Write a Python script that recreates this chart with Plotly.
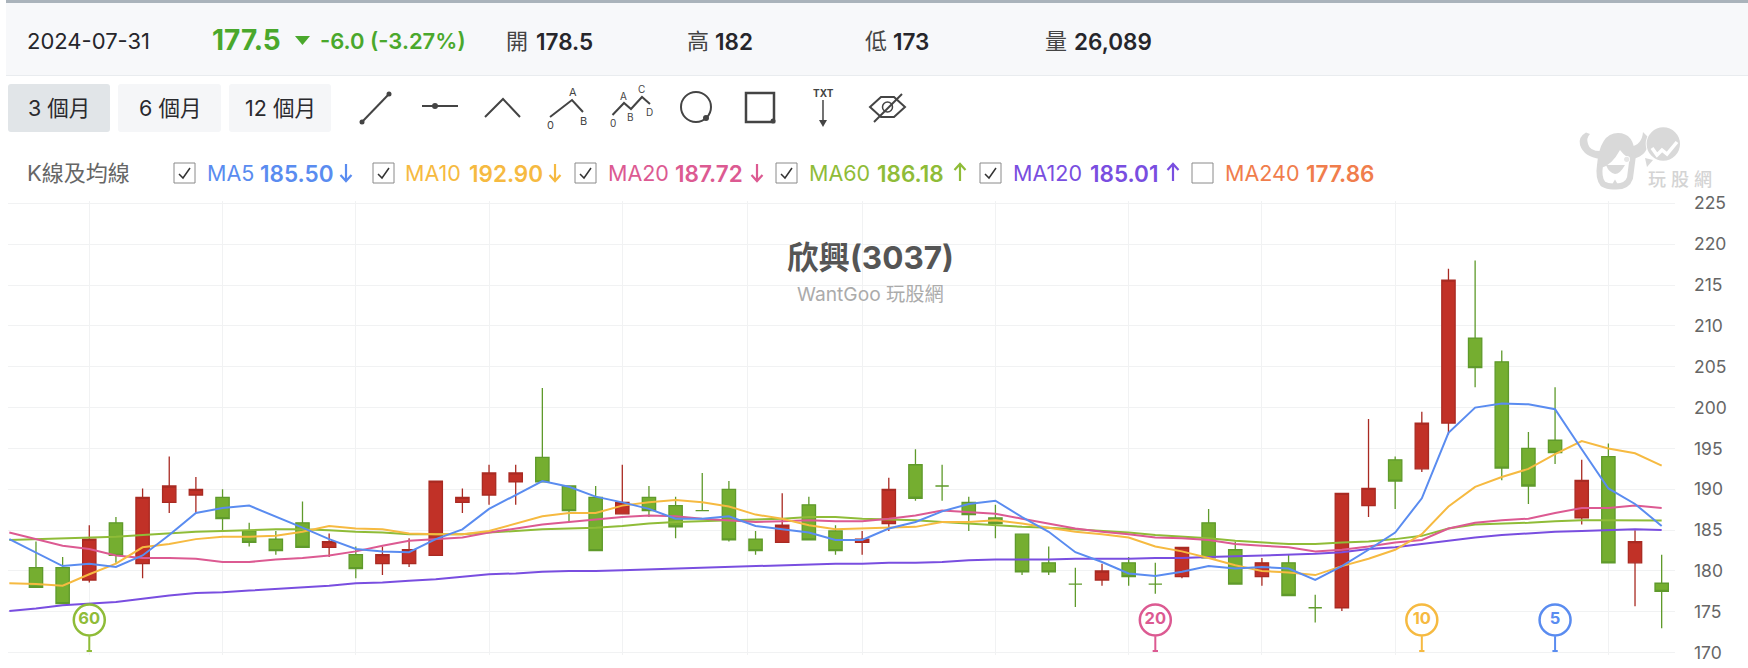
import plotly.graph_objects as go

W, H = 1748, 668

opens = [180.4, 180.4, 178.9, 185.9, 180.9, 188.4, 189.3, 189.0, 184.9, 183.9, 185.9, 182.9, 182.0, 180.9, 180.9, 181.9,
         188.4, 189.3, 190.9, 193.9, 190.4, 189.0, 187.0, 189.0, 188.0, 187.4, 190.0, 183.9, 183.5, 188.1, 184.9, 183.5, 185.8,
         193.0, 190.4, 188.4, 186.5, 184.5, 181.0, 178.4, 178.9, 181.0, 178.4, 179.3, 185.9, 182.6, 179.3, 181.0, 175.5, 175.5,
         188.0, 193.6, 192.5, 198.1, 208.5, 205.6, 195.0, 196.0, 186.5, 194.0, 181.0, 178.5]
highs = [183.6, 181.7, 185.6, 186.6, 190.1, 194.0, 191.5, 190.0, 185.9, 184.9, 188.5, 184.6, 183.0, 183.0, 184.0, 191.0,
         190.1, 193.0, 193.0, 202.4, 190.4, 190.4, 193.0, 190.4, 189.1, 192.0, 191.0, 184.9, 189.5, 189.1, 185.6, 184.9, 191.4,
         194.9, 193.0, 189.1, 188.1, 184.5, 183.0, 180.4, 180.9, 181.7, 181.0, 182.9, 187.6, 183.6, 181.6, 182.0, 177.1, 189.5,
         198.6, 194.0, 199.5, 217.0, 218.0, 207.0, 197.0, 202.5, 193.6, 195.6, 185.0, 182.0]
lows = [178.0, 176.0, 178.6, 181.0, 179.1, 187.1, 187.1, 184.9, 183.0, 182.0, 182.9, 181.7, 179.1, 179.5, 180.5, 181.9,
        187.1, 188.1, 188.1, 190.9, 186.0, 182.5, 187.0, 186.6, 184.0, 187.4, 183.6, 182.0, 183.5, 183.8, 182.0, 182.0, 184.9,
        188.6, 188.6, 184.9, 184.0, 179.5, 179.5, 175.6, 178.2, 178.2, 177.2, 179.1, 181.6, 178.4, 178.2, 177.0, 173.7, 175.1,
        186.6, 187.6, 192.1, 196.7, 202.5, 191.1, 188.2, 193.1, 185.7, 181.0, 175.7, 173.0]
closes = [178.0, 176.0, 183.9, 181.9, 189.0, 190.4, 190.0, 186.4, 183.5, 182.5, 182.9, 183.6, 180.3, 182.0, 182.6, 191.0,
          189.0, 192.0, 192.0, 190.9, 187.4, 182.5, 188.4, 187.4, 185.4, 187.4, 183.8, 182.5, 185.6, 183.8, 182.5, 183.9, 190.0,
          188.9, 190.4, 186.9, 185.8, 179.9, 179.9, 178.4, 180.0, 179.3, 178.4, 182.9, 181.6, 178.4, 181.0, 177.0, 175.5, 189.5,
          190.1, 191.0, 198.1, 215.6, 204.9, 192.6, 190.4, 194.5, 191.1, 181.0, 183.6, 177.5]

ma5 = [183.9, 182.2, 180.6, 180.9, 180.5, 181.9, 184.4, 187.1, 187.7, 188.0, 186.7, 185.3, 183.9, 182.7, 182.4, 182.3, 183.9,
       185.1, 187.6, 189.3, 191.0, 190.3, 189.1, 188.4, 187.6, 186.4, 186.4, 186.7, 185.5, 185.1, 184.7, 183.8, 183.8, 185.2,
       186.0, 187.3, 188.2, 188.6, 186.6, 184.8, 182.3, 181.1, 179.7, 179.4, 179.9, 180.6, 180.3, 180.5, 180.3, 178.9, 180.6,
       182.6, 184.7, 188.9, 196.9, 200.0, 200.5, 200.4, 199.8, 194.9, 190.1, 188.2, 185.5]
ma10 = [178.5, 178.4, 178.2, 179.6, 180.9, 182.9, 183.3, 183.9, 184.2, 184.2, 184.3, 184.8, 185.5, 185.2, 185.1, 184.6, 184.5,
        184.5, 184.9, 185.8, 186.7, 187.1, 187.1, 188.0, 188.4, 188.7, 188.4, 187.9, 186.9, 186.4, 185.6, 185.1, 185.2, 185.3,
        185.4, 186.0, 186.0, 186.2, 185.8, 185.3, 184.8, 184.5, 184.1, 183.0, 182.4, 181.6, 180.7, 180.0, 179.8, 179.5, 180.6,
        181.5, 182.6, 184.5, 187.9, 190.3, 191.5, 192.5, 194.3, 195.9, 195.0, 194.4, 192.9]
ma20 = [184.7, 183.9, 183.1, 182.7, 181.9, 181.6, 181.6, 181.5, 181.1, 181.1, 181.4, 181.6, 181.9, 182.4, 183.1, 183.7, 183.9,
        184.1, 184.7, 185.2, 185.7, 186.0, 186.3, 186.6, 186.8, 186.7, 186.4, 186.2, 186.0, 186.1, 186.2, 186.1, 186.1, 186.4,
        186.8, 187.4, 187.2, 187.0, 186.4, 185.8, 185.2, 184.8, 184.5, 184.1, 184.0, 183.8, 183.3, 183.1, 182.9, 182.4, 182.6,
        183.0, 183.5, 183.8, 185.2, 185.9, 186.2, 186.4, 187.1, 187.7, 187.7, 188.0, 187.72]
ma60 = [183.8, 183.9, 184.0, 184.1, 184.2, 184.4, 184.6, 184.8, 184.9, 185.0, 185.1, 185.1, 185.0, 184.8, 184.7, 184.5, 184.5,
        184.5, 184.7, 184.9, 185.1, 185.2, 185.3, 185.5, 185.8, 186.0, 186.1, 186.2, 186.3, 186.4, 186.6, 186.6, 186.4, 186.3,
        186.2, 186.0, 185.8, 185.6, 185.4, 185.3, 185.1, 184.9, 184.7, 184.4, 184.2, 184.0, 183.7, 183.5, 183.3, 183.3, 183.5,
        183.6, 183.9, 184.3, 185.2, 185.7, 185.8, 185.9, 186.1, 186.2, 186.2, 186.2, 186.18]
ma120 = [175.1, 175.4, 175.8, 176.0, 176.2, 176.6, 177.0, 177.3, 177.4, 177.6, 177.8, 178.0, 178.2, 178.5, 178.6, 178.8, 179.0,
         179.3, 179.6, 179.7, 179.9, 180.0, 180.0, 180.1, 180.2, 180.3, 180.4, 180.5, 180.6, 180.7, 180.8, 180.9, 180.9, 181.0,
         181.0, 181.1, 181.3, 181.4, 181.4, 181.4, 181.5, 181.5, 181.5, 181.6, 181.6, 181.7, 181.8, 181.9, 182.0, 182.1, 182.3,
         182.7, 182.9, 183.3, 183.7, 184.1, 184.4, 184.6, 184.8, 184.9, 185.0, 185.1, 185.01]

y_ticks = [170, 175, 180, 185, 190, 195, 200, 205, 210, 215, 220, 225]
month_grid = [2, 7, 12, 17, 22, 26.7, 31, 36, 41, 46, 51, 59]

pin_labels = ["60", "20", "10", "5"]
pin_sessions = [2, 42, 52, 57]

C_UP, C_UP_EDGE = "#c13127", "#a92a22"
C_DOWN, C_DOWN_EDGE = "#75ae30", "#5f9a2b"
C5, C10, C20, C60, C120, C240 = "#5a8cf0", "#f6ba41", "#dc5a92", "#8fbc38", "#794ee0", "#f07d4c"
CJK = "Inter, 'Noto Sans CJK TC', sans-serif"

# The axis box runs 2 px past the 170 and 225 levels so their gridlines are kept
PLOT_L, PLOT_R, PLOT_T, PLOT_B = 8, 1675, 201.3, 654.7
PAD_UNITS = 2 / 8.17


def px(x):
    return x / W


def py(y):
    return 1 - y / H


def path(points, closed=False):
    d = "M" + " L".join(f"{px(x):.5f},{py(y):.5f}" for x, y in points)
    return d + (" Z" if closed else "")


shapes = []
annots = []


def rect(x0, y0, x1, y1, fill, line=None, lw=0):
    shapes.append(dict(type="rect", xref="paper", yref="paper", x0=px(x0), x1=px(x1), y0=py(y1), y1=py(y0),
                       fillcolor=fill, line=dict(color=line or fill, width=lw), layer="below"))


def poly(points, color, lw=2, closed=False, fill=None):
    shapes.append(dict(type="path", xref="paper", yref="paper", path=path(points, closed),
                       fillcolor=fill or "rgba(0,0,0,0)", line=dict(color=color, width=lw)))


def dot(x, y, r, color, fill=None, lw=0):
    shapes.append(dict(type="circle", xref="paper", yref="paper", x0=px(x - r), x1=px(x + r), y0=py(y + r), y1=py(y - r),
                       fillcolor=fill or color, line=dict(color=color, width=lw)))


def curve(d, color, fill=None, lw=0):
    # d holds commands with pixel pairs; they are converted to paper units here
    out, i = [], 0
    toks = d.split()
    while i < len(toks):
        t = toks[i]
        if t.isalpha():
            out.append(t)
            i += 1
        else:
            out.append(f"{px(float(t)):.5f},{py(float(toks[i + 1])):.5f}")
            i += 2
    shapes.append(dict(type="path", xref="paper", yref="paper", path=" ".join(out),
                       fillcolor=fill or "rgba(0,0,0,0)", line=dict(color=color, width=lw)))


def text(x, y, s, size, color, weight=400, anchor="left", family=CJK):
    annots.append(dict(xref="paper", yref="paper", x=px(x), y=py(y), text=s, showarrow=False, xanchor=anchor,
                       yanchor="middle", borderpad=0, borderwidth=0,
                       font=dict(size=size, color=color, family=family, weight=weight)))


# Quote strip
rect(6, 3, W, 75, "#f7f8fa")
rect(6, 0, W, 3, "#aab3bb")
rect(6, 75, W, 76, "#e9ecef")
text(27, 41, "2024-07-31", 22, "#26262b")
text(212, 40, "177.5", 28, "#4aa82c", 700)
poly([(295, 36), (310, 36), (302.5, 45)], "#4aa82c", 0, True, "#4aa82c")
text(320, 41, "-6.0 (-3.27%)", 22, "#4aa82c", 600)
text(506, 41, "開", 22, "#444")
text(536, 41, "178.5", 22.5, "#26262b", 600)
text(687, 41, "高", 22, "#444")
text(715, 41, "182", 22.5, "#26262b", 600)
text(865, 41, "低", 22, "#444")
text(893, 41, "173", 22.5, "#26262b", 600)
text(1045, 41, "量", 22, "#444")
text(1074, 41, "26,089", 22.5, "#26262b", 600)


# Range buttons
def button(x0, x1, label, fill):
    r = 3
    y0, y1 = 84, 132
    d = (f"M {x0 + r} {y0} L {x1 - r} {y0} Q {x1} {y0} {x1} {y0 + r} L {x1} {y1 - r} Q {x1} {y1} {x1 - r} {y1} "
         f"L {x0 + r} {y1} Q {x0} {y1} {x0} {y1 - r} L {x0} {y0 + r} Q {x0} {y0} {x0 + r} {y0} Z")
    curve(d, fill, fill)
    text((x0 + x1) / 2, 108, label, 21.5, "#2a2a2e", anchor="center")


button(8, 110, "3 個月", "#e1e5e8")
button(118, 221, "6 個月", "#f5f6f8")
button(229, 331, "12 個月", "#f5f6f8")

# Drawing tools
INK = "#444444"
poly([(362, 122), (389, 94)], INK)
dot(362, 122, 2.5, INK)
dot(389, 94, 2.5, INK)
poly([(422, 106), (458, 106)], INK)
dot(435, 106, 3, INK)
poly([(485, 117), (503, 99), (520, 117)], INK)
poly([(550, 117), (572, 100), (583, 112)], INK)
text(573, 92, "A", 11, INK, anchor="center")
text(550, 125, "0", 11, INK, anchor="center")
text(583, 121, "B", 11, INK, anchor="center")
poly([(612.5, 115), (624, 103), (631, 109), (642, 97), (650, 104)], INK)
text(623, 96, "A", 10, INK, anchor="center")
text(641.5, 89, "C", 10, INK, anchor="center")
text(612.5, 123, "0", 10, INK, anchor="center")
text(630, 117, "B", 10, INK, anchor="center")
text(649, 112, "D", 10, INK, anchor="center")
dot(696, 107, 15, INK, "rgba(0,0,0,0)", 2)
dot(706, 118, 3, INK)
poly([(746, 93), (774, 93), (774, 122), (746, 122)], INK, 2.5, True)
dot(773, 121, 2.5, INK)
text(823, 93, "TXT", 10, INK, 700, "center")
poly([(823, 100), (823, 122)], INK, 1.5)
poly([(819, 120), (827, 120), (823, 127)], INK, 0, True, INK)
poly([(870, 107), (881, 97), (894, 97), (905, 107), (894, 117), (881, 117)], INK, 2, True)
poly([(874, 122), (902, 94)], INK, 2)
dot(887.5, 107, 5, INK, "rgba(0,0,0,0)", 1.5)

# Averages legend
text(27, 173, "K線及均線", 22, "#666666")


def arrow(x, up, color):
    top, bot = 164, 181
    tip = top if up else bot
    wing = tip + 6 if up else tip - 6
    poly([(x, top), (x, bot)], color, 2.2)
    poly([(x - 5.5, wing), (x, tip), (x + 5.5, wing)], color, 2.2)


legend_rows = [
    (174, 207, 260, "MA5", "185.50", C5, 346, False, True),
    (373, 405, 469, "MA10", "192.90", C10, 555, False, True),
    (575, 608, 675, "MA20", "187.72", C20, 757, False, True),
    (776, 809, 877, "MA60", "186.18", C60, 960, True, True),
    (980, 1013, 1090, "MA120", "185.01", C120, 1173, True, True),
    (1192, 1225, 1306, "MA240", "177.86", C240, None, None, False),
]
for box_x, name_x, val_x, name, val, col, arr_x, arr_up, checked in legend_rows:
    rect(box_x, 163, box_x + 21, 183, "#ffffff", "#8a8a8a", 1)
    if checked:
        poly([(box_x + 5, 174), (box_x + 9, 178), (box_x + 16, 168)], "#333333", 1.5)
    text(name_x, 173, name, 21.5, col)
    text(val_x, 173, val, 22.5, col, 600)
    if arr_x is not None:
        arrow(arr_x, arr_up, col)

# Brand mark above the price axis
MARK = "#d9d9d9"
curve("M 1586 132.5 Q 1578 137 1580 145 Q 1584 157 1600 159 L 1603 151 Q 1590 152 1588 144 Q 1586 138 1590 134 Z", MARK, MARK)
curve("M 1643 132 Q 1642 145 1630 147 L 1632 159 Q 1650 156 1648 137 Z", MARK, MARK)
curve("M 1597 165 Q 1600 133 1618 133 Q 1634 133 1635 155 L 1634 160 Q 1626 158 1620 150 Q 1612 165 1601 168 Z", MARK, MARK)
curve("M 1600 165 Q 1598 178 1603 184 Q 1608 187 1615 186.5 Q 1627 187 1630 178 L 1633 155", MARK, None, 6)
curve("M 1606 165 L 1625 165 Q 1620 174 1615 174 Q 1609 173 1606 165 Z", MARK, MARK)
dot(1626.7, 159.3, 3.3, "#ffffff")
dot(1626.7, 159.3, 2.6, "#e6e6e6")
curve("M 1610 188 L 1615 179.5 L 1620 188 Z", MARK, MARK)
dot(1663.3, 144, 17.6, "#ffffff")
dot(1663.3, 144, 16.7, MARK)
curve("M 1645 158 L 1647 167 L 1653 160 Z", MARK, MARK)
poly([(1652, 148), (1657, 155), (1662, 150), (1667, 154), (1677, 142)], "#ffffff", 3.5)
text(1657, 179.5, "玩", 18, "#d4d4d4", 500, "center")
text(1680, 179.5, "股", 18, "#d4d4d4", 500, "center")
text(1703, 179.5, "網", 18, "#d4d4d4", 500, "center")

# Chart heading
text(870, 257, "欣興(3037)", 31.5, "#555555", 700, "center")
text(870, 294, "WantGoo 玩股網", 19.2, "#ababab", 400, "center")

fig = go.Figure()

sessions = list(range(len(closes)))
ma_x = list(range(-1, len(closes)))

up = [i for i in sessions if closes[i] > opens[i]]
down = [i for i in sessions if closes[i] <= opens[i]]
for idx, fill, edge in ((up, C_UP, C_UP_EDGE), (down, C_DOWN, C_DOWN_EDGE)):
    style = dict(line=dict(color=edge, width=1.3), fillcolor=fill)
    fig.add_trace(go.Candlestick(
        x=idx,
        open=[opens[i] for i in idx],
        high=[highs[i] for i in idx],
        low=[lows[i] for i in idx],
        close=[closes[i] for i in idx],
        increasing=style, decreasing=style,
        whiskerwidth=0, showlegend=False, hoverinfo="skip",
    ))

for values, col in ((ma120, C120), (ma60, C60), (ma20, C20), (ma10, C10), (ma5, C5)):
    fig.add_trace(go.Scatter(x=ma_x, y=values, mode="lines", line=dict(color=col, width=2),
                             showlegend=False, hoverinfo="skip"))

pin_colors = [C60, C20, C10, C5]
PIN_LEVEL, PIN_STEM_TOP, PIN_FOOT = 174, 172, 170.1
for xv, col in zip(pin_sessions, pin_colors):
    shapes.append(dict(type="line", xref="x", yref="y", x0=xv, x1=xv, y0=PIN_STEM_TOP, y1=PIN_FOOT,
                       line=dict(color=col, width=2), layer="above"))
    shapes.append(dict(type="line", xref="x", yref="y", x0=xv - 0.1, x1=xv + 0.1, y0=PIN_FOOT + 0.1, y1=PIN_FOOT + 0.1,
                       line=dict(color=col, width=2), layer="above"))
fig.add_trace(go.Scatter(
    x=pin_sessions, y=[PIN_LEVEL] * 4, mode="markers+text",
    marker=dict(size=31, color="#ffffff", line=dict(color=pin_colors, width=2.5)),
    text=pin_labels, textposition="middle center",
    textfont=dict(size=16.5, color=pin_colors, family=CJK, weight=700),
    showlegend=False, hoverinfo="skip", cliponaxis=False,
))

fig.update_layout(
    width=W, height=H, margin=dict(l=0, r=0, t=0, b=0, pad=0), autosize=False,
    paper_bgcolor="#ffffff", plot_bgcolor="#ffffff",
    boxgap=0.5, boxgroupgap=0, showlegend=False,
    shapes=shapes, annotations=annots,
    xaxis=dict(domain=[px(PLOT_L), px(PLOT_R)], range=[-1.05, 61.5], tickvals=month_grid, showticklabels=False,
               ticks="", showgrid=True, gridcolor="#f1f2f3", gridwidth=1.2, zeroline=False, showline=False,
               automargin=False, rangeslider=dict(visible=False), fixedrange=True),
    yaxis=dict(domain=[py(PLOT_B), py(PLOT_T)], range=[170 - PAD_UNITS, 225 + PAD_UNITS], side="right",
               tickvals=y_ticks, ticks="", ticklabelstandoff=18, showgrid=True, gridcolor="#f1f2f3", gridwidth=1.2,
               zeroline=False, showline=False, automargin=False, fixedrange=True,
               tickfont=dict(size=17.5, color="#666666", family=CJK)),
)

fig.write_html("out.html", config=dict(displayModeBar=False))
